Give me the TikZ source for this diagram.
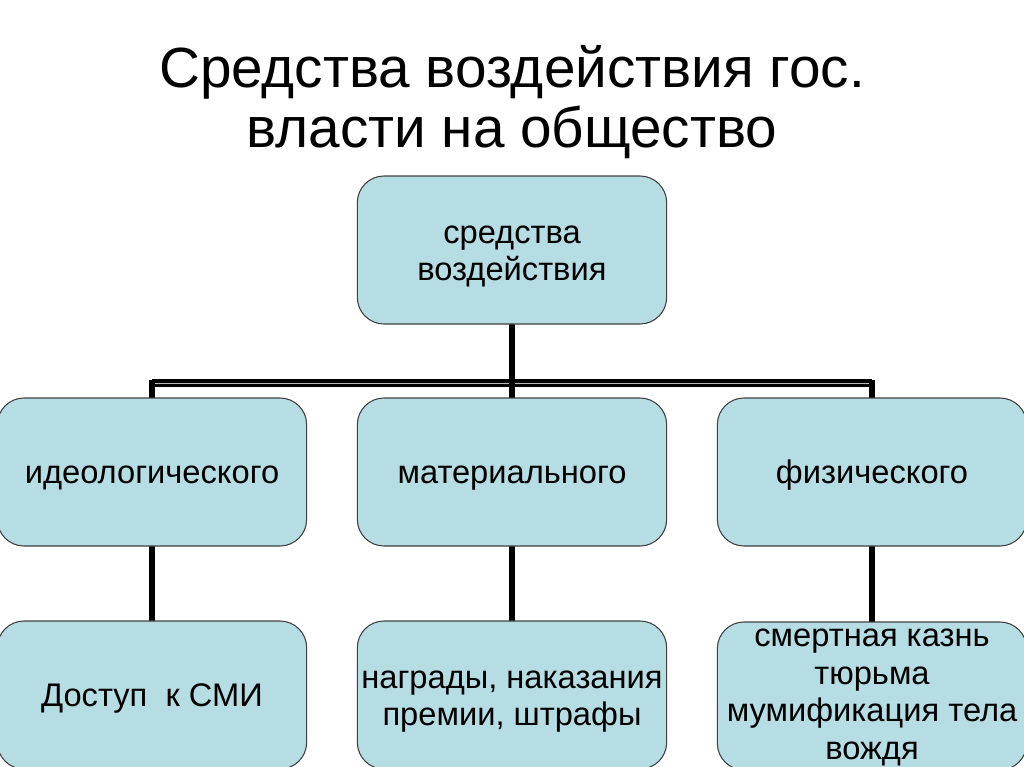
\documentclass[tikz,border=0pt]{standalone}
\usepackage{fontspec}
\setmainfont{Liberation Sans}
\usetikzlibrary{backgrounds}
\definecolor{boxfill}{RGB}{183,221,228}
\newcommand{\linestrut}{\vrule height 0.905em depth 0.212em width 0pt}

\begin{document}
\begin{tikzpicture}[x=0.75pt,y=-0.75pt,
    box/.style={draw=black!75,line width=0.8pt,fill=boxfill,rounded corners=20pt,
      minimum width=232pt,minimum height=111pt,inner sep=0pt,align=center,
      font=\fontsize{24.5}{28.2}\selectfont,
      execute at begin node=\linestrut,execute at end node=\linestrut},
    lowered/.style={execute at begin node={\vrule height #1 width 0pt}},
    link/.style={line width=5.2pt,line cap=rect},
    bar/.style={line width=2.6pt,double=gray!55,double distance=0.5pt}]
    \clip (0,0) rectangle (1024,767);
    \node[align=center,font=\fontsize{42.5}{45}\selectfont] (title) at (512,102) {Средства воздействия гос.\\власти на общество};
    \node[box,lowered=2.1em] (sredstva) at (512,250) {средства\\воздействия};
    \node[box] (ideo) at (152,472) {идеологического};
    \node[box] (mater) at (512,472) {материального};
    \node[box] (fiz) at (872,472) {физического};
    \node[box] (smi) at (152,695) {Доступ\ \ к СМИ};
    \node[box,lowered=2.1em] (nagrady) at (512,695) {награды, наказания\\премии, штрафы};
    \node[box,lowered=4.1em] (kazn) at (872,696) {смертная казнь\\тюрьма\\мумификация тела\\вождя};
    \coordinate (split) at (512,383);
    \begin{pgfonlayer}{background}
        \draw[bar] (ideo.north |- split) -- (fiz.north |- split);
        \draw[link] (sredstva.south) -- (split);
        \foreach \n in {ideo,mater,fiz}
            \draw[link] (\n.north |- split) -- (\n.north);
        \draw[link] (ideo.south) -- (smi.north);
        \draw[link] (mater.south) -- (nagrady.north);
        \draw[link] (fiz.south) -- (kazn.north);
    \end{pgfonlayer}
\end{tikzpicture}
\end{document}
